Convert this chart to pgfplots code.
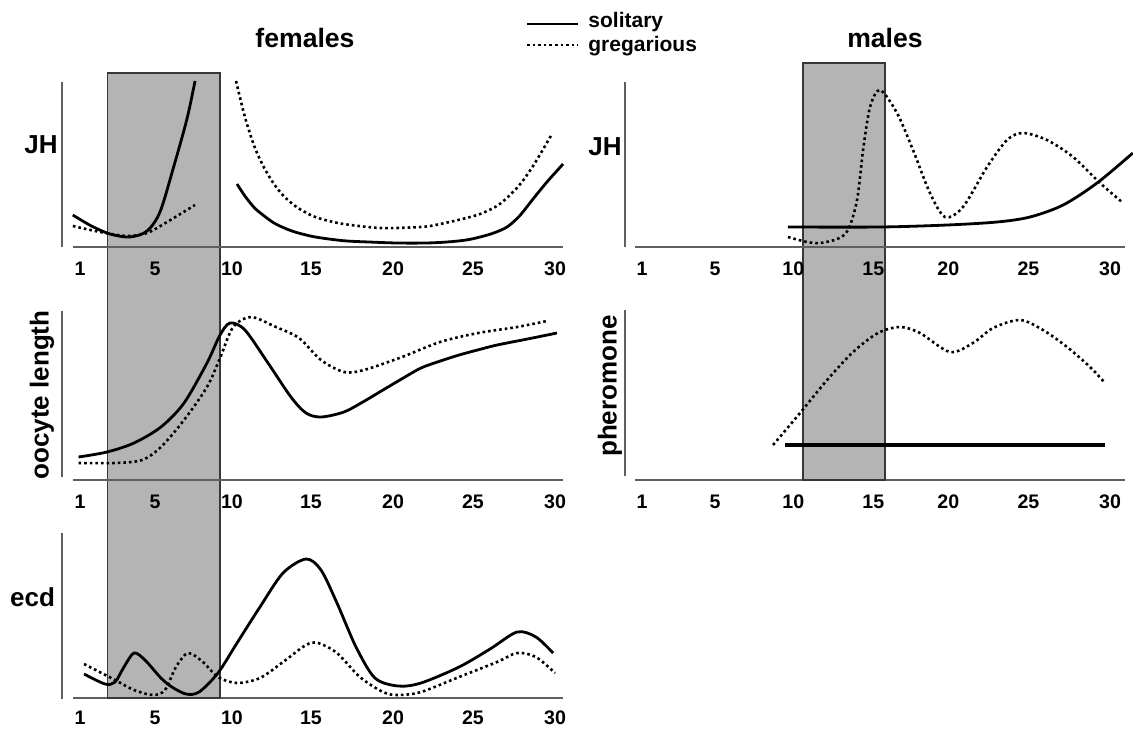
\documentclass[border=0pt]{standalone}
\usepackage{pgfplots}
\pgfplotsset{compat=1.18}
\usepackage{fontspec}
\setmainfont{Liberation Sans}

\definecolor{boxgray}{RGB}{180,180,180}
\definecolor{boxedge}{RGB}{55,55,55}
\definecolor{axgray}{RGB}{95,95,95}

\pgfplotsset{
  panel/.style={
    y=0.5pt, ymin=0, ymax=170,
    axis x line=bottom, axis y line=none,
    axis line style={-, draw=axgray, line width=0.75pt},
    every outer x axis line/.append style={-},
    xtick style={draw=none},
    ytick=\empty,
    clip=false,
    anchor=south west,
    xticklabel style={font=\fontsize{9.8}{11}\selectfont\bfseries, anchor=north, inner sep=0pt, yshift=-5pt},
  },
  fpanel/.style={panel, x=8.075pt, xmin=0.155, xmax=30.5,
    xtick={0.59,5.23,10,14.89,19.97,24.92,30}, xticklabels={1,5,10,15,20,25,30}},
  mpanel/.style={panel, x=7.925pt, xmin=0.03, xmax=30.95,
    xtick={0.47,5.08,10.02,15.07,19.8,24.85,30}, xticklabels={1,5,10,15,20,25,30}},
  sol/.style={black, line width=1.4pt, smooth, no markers},
  dot/.style={black, line width=1.3pt, dash pattern=on 1.3pt off 1.5pt, smooth, no markers},
  shade/.style={fill=boxgray, draw=boxedge, line width=0.6pt, no markers},
}

\begin{document}
\begin{tikzpicture}
\useasboundingbox (0pt,0pt) rectangle (566.5pt,-364.5pt);

% ---------------- females: ecd (drawn first, carries shaded box)
\begin{axis}[fpanel, at={(36.5pt,-349pt)}, xticklabel style={yshift=1pt}]
\addplot[shade] coordinates {(2.29,0) (9.26,0) (9.26,625) (2.29,625)} -- cycle;
\draw[axgray, line width=0.75pt] (axis cs:-0.53,-1) -- (axis cs:-0.53,165);
\addplot[sol] coordinates {(0.84,24) (2.14,14) (2.76,16) (3.31,31) (3.93,45) (4.61,38) (5.60,20) (6.28,11) (7.15,4) (7.96,6) (9.13,25) (10.31,55) (11.73,91) (13.16,125) (14.58,139) (15.51,128) (16.50,95) (17.68,51) (18.85,20) (20.28,12) (21.70,15) (24.06,31) (25.98,49) (27.65,66) (28.82,61) (29.88,45)};
\addplot[dot] coordinates {(0.84,34) (2.76,18) (3.93,8) (5.11,3) (5.85,8) (6.53,31) (7.28,45) (8.20,36) (9.13,21) (10.31,15) (11.73,20) (13.16,36) (14.58,53) (15.33,55) (16.50,45) (17.92,21) (19.35,6) (20.28,3) (21.70,6) (24.06,21) (26.41,36) (27.65,45) (28.82,41) (30.00,25)};
\end{axis}

% ---------------- females: oocyte length
\begin{axis}[fpanel, at={(36.5pt,-240pt)}]
\draw[axgray, line width=0.75pt] (axis cs:-0.53,3) -- (axis cs:-0.53,169);
\addplot[sol] coordinates {(0.50,23) (2.26,28) (3.93,37) (5.60,53) (7.03,77) (8.45,117) (9.26,145) (9.88,157) (10.80,150) (12.23,117) (13.65,83) (14.58,67) (15.51,63) (16.93,68) (18.10,78) (19.35,90) (20.50,101) (21.70,112) (22.90,119) (24.06,125) (25.20,130) (26.41,135) (28.30,141) (30.12,147)};
\addplot[dot] coordinates {(0.50,17) (2.76,17) (4.43,20) (5.60,33) (7.03,60) (8.45,93) (9.26,122) (10.07,153) (11.18,163) (12.72,153) (14.15,142) (15.51,120) (16.93,108) (18.17,110) (20.53,123) (22.88,138) (25.24,147) (27.65,153) (29.50,159)};
\end{axis}

% ---------------- females: JH
\begin{axis}[fpanel, at={(36.5pt,-123.5pt)}]
\draw[axgray, line width=0.75pt] (axis cs:-0.53,0) -- (axis cs:-0.53,165);
\addplot[sol] coordinates {(0.14,32) (1.30,21) (2.45,13) (3.68,10) (4.74,16) (5.54,35) (6.35,78) (7.21,128) (7.71,166)};
\addplot[dot] coordinates {(0.15,21) (1.83,15) (3.50,11) (4.74,14) (5.98,25) (7.71,42)};
\addplot[sol] coordinates {(10.31,63) (10.80,51) (11.40,39) (12.00,31) (12.60,24) (13.30,18.6) (14.00,14.5) (15.00,10.5) (16.00,8) (17.12,6) (18.50,5) (20.22,4) (22.00,4) (23.31,5) (24.50,7) (25.36,10) (26.20,14) (27.03,20) (27.80,31) (28.64,48) (29.50,65) (30.50,83)};
\addplot[dot] coordinates {(10.25,166) (10.80,130) (11.40,100) (12.00,79) (12.60,63) (13.20,51) (14.00,40) (15.00,31) (16.00,26) (17.12,22.5) (19.16,19) (21.00,19.5) (22.26,21) (24.00,27) (25.36,33) (26.50,42) (27.40,55) (28.00,66) (28.64,81) (29.20,96) (29.81,113)};
\end{axis}

% ---------------- males: pheromone (carries shaded box)
\begin{axis}[mpanel, at={(317.5pt,-240pt)}]
\addplot[shade] coordinates {(10.63,0) (15.80,0) (15.80,417) (10.63,417)} -- cycle;
\draw[axgray, line width=0.75pt] (axis cs:-0.60,4) -- (axis cs:-0.60,170);
\addplot[black, line width=1.7pt, no markers] coordinates {(9.50,35) (19.60,35) (29.68,35)};
\addplot[dot] coordinates {(8.74,35) (10.44,67) (12.15,100) (13.79,128) (15.36,147) (16.75,153) (18.01,147) (19.90,128) (21.35,137) (22.62,152) (24.32,160) (25.77,150) (27.29,133) (28.74,113) (29.68,97)};
\end{axis}

% ---------------- males: JH
\begin{axis}[mpanel, at={(317.5pt,-123.5pt)}]
\draw[axgray, line width=0.75pt] (axis cs:-0.60,0) -- (axis cs:-0.60,165);
\addplot[sol] coordinates {(9.68,20) (15.49,20) (19.72,22) (22.87,25) (24.95,30) (27.04,42) (29.18,64) (31.44,94)};
\addplot[dot] coordinates {(9.68,10) (10.88,5) (11.71,4) (12.78,8) (13.47,17) (14.04,47) (14.42,97) (14.86,140) (15.49,157) (16.56,134) (17.57,97) (18.64,54) (19.59,30) (20.72,40) (22.24,80) (23.50,107) (24.51,114) (26.02,107) (27.67,90) (29.37,64) (30.82,44)};
\end{axis}

% ---------------- titles, labels, legend
\node[font=\fontsize{13.3}{15}\selectfont\bfseries] at (152.5pt,-19pt) {females};
\node[font=\fontsize{13.3}{15}\selectfont\bfseries] at (442.5pt,-19pt) {males};
\node[font=\fontsize{13}{15}\selectfont\bfseries] at (20.5pt,-72.5pt) {JH};
\node[font=\fontsize{13}{15}\selectfont\bfseries] at (302.5pt,-73.5pt) {JH};
\node[font=\fontsize{13}{15}\selectfont\bfseries, rotate=90] at (21pt,-197.5pt) {oocyte length};
\node[font=\fontsize{13}{15}\selectfont\bfseries] at (16.25pt,-298.5pt) {ecd};
\node[font=\fontsize{13}{15}\selectfont\bfseries, rotate=90] at (305pt,-193pt) {pheromone};

\draw[black, line width=1.4pt] (263.5pt,-12pt) -- (289pt,-12pt);
\draw[black, line width=1.3pt, dash pattern=on 1.3pt off 1.5pt] (263.5pt,-22.5pt) -- (289pt,-22.5pt);
\node[font=\fontsize{10.5}{12}\selectfont\bfseries, anchor=base west, inner sep=0pt] at (294pt,-13.5pt) {solitary};
\node[font=\fontsize{10.5}{12}\selectfont\bfseries, anchor=base west, inner sep=0pt] at (294pt,-25.5pt) {gregarious};
\end{tikzpicture}
\end{document}
